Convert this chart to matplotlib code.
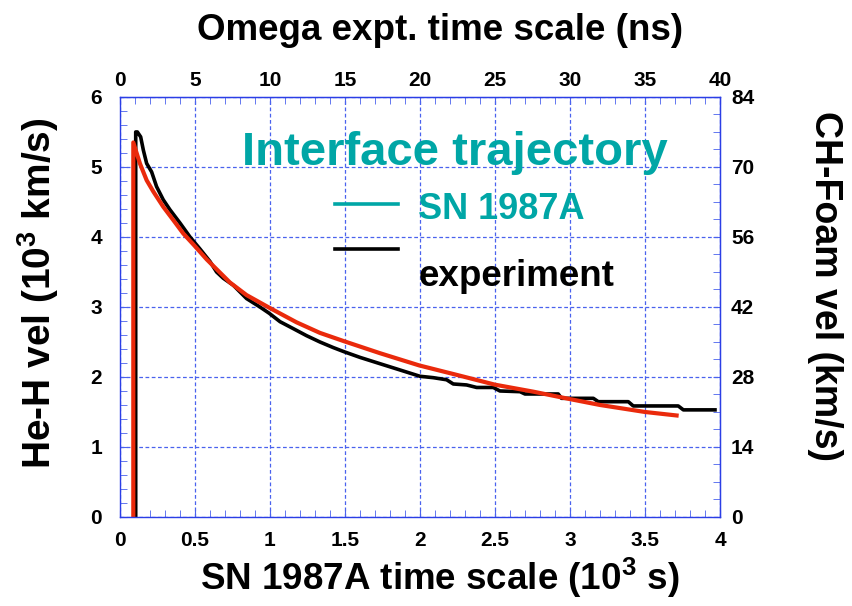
import matplotlib
matplotlib.use("Agg")
import matplotlib.pyplot as plt
from matplotlib.ticker import MultipleLocator, FuncFormatter

plt.rcParams['font.family'] = ['Liberation Sans', 'DejaVu Sans']
plt.rcParams['font.weight'] = 'bold'
plt.rcParams['axes.labelweight'] = 'bold'
plt.rcParams['mathtext.default'] = 'regular'

# SN 1987A model curve (10^3 s, 10^3 km/s)
sn_t = [0.089, 0.089, 0.133, 0.178, 0.222, 0.289, 0.356, 0.422, 0.495, 0.578, 0.733,
        0.844, 0.995, 1.178, 1.333, 1.495, 1.733, 1.995, 2.245, 2.5, 2.756,
        2.995, 3.2, 3.5, 3.711]
sn_v = [0.0, 5.35, 5.05, 4.81, 4.65, 4.43, 4.24, 4.05, 3.88, 3.68, 3.35,
        3.17, 2.99, 2.78, 2.63, 2.51, 2.34, 2.165, 2.03, 1.89, 1.79,
        1.686, 1.60, 1.50, 1.45]

# experiment curve
ex_t = [0.105, 0.105, 0.116, 0.138, 0.156, 0.178, 0.211, 0.244, 0.289, 0.333, 0.4,
        0.467, 0.533, 0.6, 0.644, 0.689, 0.756, 0.844, 0.933, 0.995, 1.067, 1.156,
        1.244, 1.333, 1.422, 1.495, 1.6, 1.733, 1.867, 2.0, 2.089, 2.178, 2.222,
        2.311, 2.378, 2.489, 2.533, 2.667, 2.7, 2.922, 2.944, 3.156, 3.189, 3.389,
        3.422, 3.722, 3.756, 3.967]
ex_v = [0.0, 5.50, 5.50, 5.43, 5.24, 5.05, 4.93, 4.72, 4.53, 4.39, 4.20,
        4.00, 3.83, 3.65, 3.50, 3.41, 3.31, 3.12, 3.00, 2.91, 2.79, 2.69,
        2.59, 2.50, 2.42, 2.36, 2.28, 2.19, 2.10, 2.01, 1.99, 1.96, 1.90,
        1.886, 1.85, 1.85, 1.80, 1.79, 1.757, 1.757, 1.695, 1.695, 1.647, 1.647,
        1.586, 1.586, 1.53, 1.53]

blue = '#2b3ee6'
grid_blue = '#4a62ee'
teal = '#00a6a6'
red = '#ea2a0c'

fig = plt.figure(figsize=(8.52, 6.06), dpi=100)
ax = fig.add_axes([0.1408, 0.1469, 0.7042, 0.6931])

ax.plot(ex_t, ex_v, color='black', lw=2.6, solid_joinstyle='round')
ax.plot(sn_t, sn_v, color=red, lw=3.0, solid_joinstyle='round')

ax.set_xlim(0, 4)
ax.set_ylim(0, 6)
ax.xaxis.set_major_locator(MultipleLocator(0.5))
ax.xaxis.set_minor_locator(MultipleLocator(0.1))
ax.xaxis.set_major_formatter(FuncFormatter(lambda v, p: '%g' % v))
ax.yaxis.set_major_locator(MultipleLocator(1))
ax.yaxis.set_minor_locator(MultipleLocator(0.2))
ax.grid(True, which='major', color=grid_blue, ls=(0, (3, 2)), lw=0.9)
for s in ax.spines.values():
    s.set_color(blue)
    s.set_linewidth(1.0)
ax.tick_params(which='both', direction='in', color=grid_blue, labelsize=15, length=5)
ax.tick_params(axis='x', pad=10)
ax.tick_params(axis='y', pad=13)

top = ax.secondary_xaxis('top', functions=(lambda x: x * 10, lambda x: x / 10))
top.xaxis.set_major_locator(MultipleLocator(5))
top.xaxis.set_minor_locator(MultipleLocator(1))
top.tick_params(which='both', direction='in', color=grid_blue, labelsize=15, length=5, pad=5)
top.spines['top'].set_color(blue)

right = ax.secondary_yaxis('right', functions=(lambda y: y * 14, lambda y: y / 14))
right.yaxis.set_major_locator(MultipleLocator(14))
right.yaxis.set_minor_locator(MultipleLocator(3.5))
right.tick_params(which='both', direction='in', color=grid_blue, labelsize=15, length=5, pad=8)
right.spines['right'].set_color(blue)

xl = ax.set_xlabel('SN 1987A time scale (10$^3$ s)', fontsize=26.5, fontweight='bold')
ax.xaxis.set_label_coords(0.533, -0.145)
xl.set_va('center')
yl = ax.set_ylabel('He-H vel (10$^3$ km/s)', fontsize=28, fontweight='bold')
ax.yaxis.set_label_coords(-0.137, 0.533)
yl.set_va('center')
tl = top.set_xlabel('Omega expt. time scale (ns)', fontsize=26.5, fontweight='bold')
top.xaxis.set_label_coords(0.533, 1.158, transform=ax.transAxes)
tl.set_va('center')
rl = right.set_ylabel('CH-Foam vel (km/s)', fontsize=27, fontweight='bold', rotation=270)
right.yaxis.set_label_coords(1.175, 0.55, transform=ax.transAxes)
rl.set_va('center')

# title and hand-made legend inside the axes
ax.text(2.23, 5.2, 'Interface trajectory', color=teal, fontsize=34,
        ha='center', va='center')
ax.plot([1.433, 1.853], [4.47, 4.47], color=teal, lw=2.6)
ax.plot([1.433, 1.853], [3.83, 3.83], color='black', lw=2.6)
ax.text(1.99, 4.39, 'SN 1987A', color=teal, fontsize=26, ha='left', va='center')
ax.text(1.99, 3.43, 'experiment', color='black', fontsize=26.5, ha='left', va='center')

fig.savefig('out.png', dpi=100)
